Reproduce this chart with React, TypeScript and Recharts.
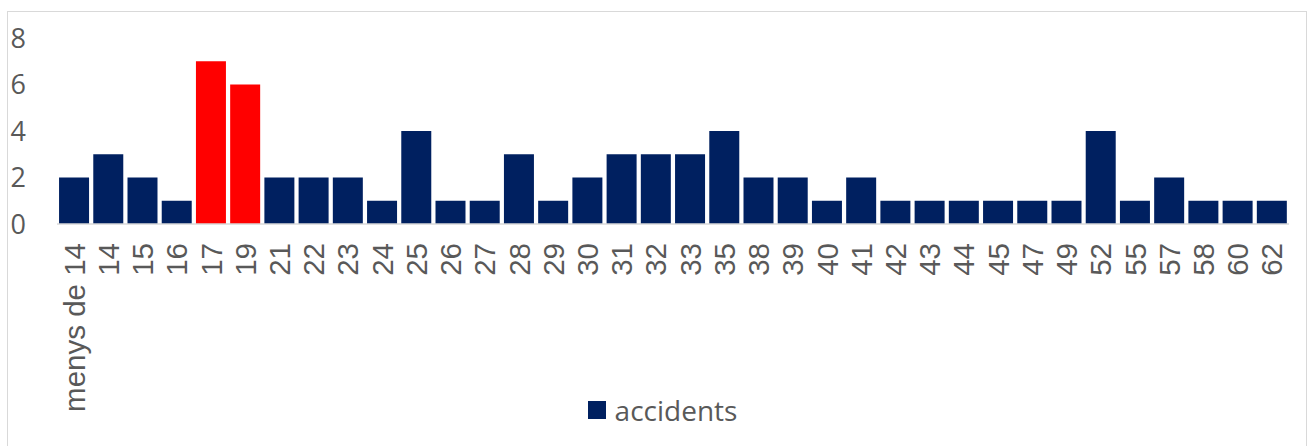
import React from "react";
import { BarChart, Bar, Cell, XAxis, YAxis, Legend } from "recharts";

// categories (age) and accident counts
const ages = [
  "menys de 14", "14", "15", "16", "17", "19", "21", "22", "23", "24", "25", "26",
  "27", "28", "29", "30", "31", "32", "33", "35", "38", "39", "40", "41",
  "42", "43", "44", "45", "47", "49", "52", "55", "57", "58", "60", "62",
];
const accidents = [
  2, 3, 2, 1, 7, 6, 2, 2, 2, 1, 4, 1,
  1, 3, 1, 2, 3, 3, 3, 4, 2, 2, 1, 2,
  1, 1, 1, 1, 1, 1, 4, 1, 2, 1, 1, 1,
];
const highlighted = ["17", "19"];
const yTicks = [0, 2, 4, 6, 8];

const NAVY = "#002060";
const RED = "#FF0000";
const GREY_TEXT = "#595959";

const data = ages.map((age, i) => ({ age, accidents: accidents[i] }));

const AgeTick = (props: any) => {
  const { x, y, payload } = props;
  return (
    <text
      x={x}
      y={y + 19}
      dy="0.36em"
      transform={`rotate(-90, ${x}, ${y + 19})`}
      textAnchor="end"
      fill={GREY_TEXT}
      fontSize={29.5}
      fontFamily="'Liberation Sans', Arial, sans-serif"
    >
      {payload.value}
    </text>
  );
};

const LegendBox = () => (
  <div
    style={{
      height: 50,
      display: "flex",
      justifyContent: "center",
      alignItems: "flex-start",
      paddingLeft: 28,
      boxSizing: "border-box",
    }}
  >
    <div style={{ display: "flex", alignItems: "center", marginTop: 1 }}>
      <span style={{ width: 18, height: 18, background: NAVY, display: "inline-block", marginRight: 9 }} />
      <span style={{ color: GREY_TEXT, fontSize: 28, fontFamily: "'Open Sans', sans-serif", lineHeight: "18px" }}>
        accidents
      </span>
    </div>
  </div>
);

export default function App() {
  return (
    <div
      style={{
        position: "absolute",
        left: 7,
        top: 11,
        width: 1298,
        height: 440,
        border: "1px solid #d9d9d9",
        background: "#fff",
      }}
    >
      <BarChart
        width={1298}
        height={438}
        data={data}
        margin={{ top: 26, right: 17, bottom: 0, left: 0 }}
        barCategoryGap="6%"
      >
        <XAxis
          dataKey="age"
          interval={0}
          height={176}
          tickLine={false}
          tickSize={0}
          tickMargin={0}
          tick={<AgeTick />}
          axisLine={{ stroke: "#d9d9d9", strokeWidth: 1.5 }}
        />
        <YAxis
          width={49}
          domain={[0, 8]}
          ticks={yTicks}
          axisLine={false}
          tickLine={false}
          tickSize={0}
          tickMargin={31}
          tick={{ fill: GREY_TEXT, fontSize: 27, fontFamily: "'Open Sans', sans-serif" }}
        />
        <Legend verticalAlign="bottom" content={<LegendBox />} />
        <Bar dataKey="accidents" fill={NAVY} isAnimationActive={false}>
          {data.map((d) => (
            <Cell key={d.age} fill={highlighted.includes(d.age) ? RED : NAVY} />
          ))}
        </Bar>
      </BarChart>
    </div>
  );
}
